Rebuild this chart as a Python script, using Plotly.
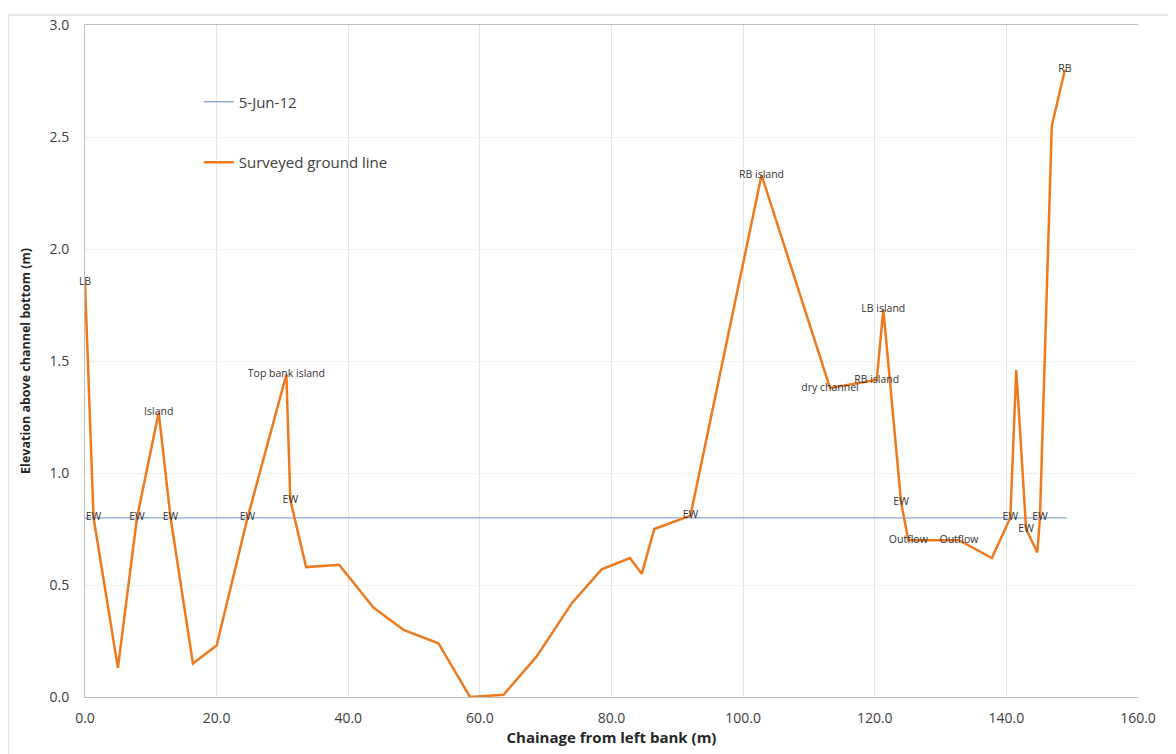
import plotly.graph_objects as go

# Surveyed ground line (chainage m, elevation m)
chainage = [0.0, 1.3, 5.0, 7.9, 11.2, 13.0, 16.4, 20.0, 24.7, 30.6, 31.2, 33.6, 38.6,
            43.8, 48.4, 53.7, 58.5, 63.6, 68.6, 74.0, 78.5, 82.8, 84.6, 86.5, 92.0,
            102.8, 113.2, 120.3, 121.3, 124.0, 125.1, 132.8, 137.8, 140.6, 141.5,
            143.0, 144.7, 145.1, 146.9, 148.9]
elevation = [1.85, 0.80, 0.13, 0.80, 1.27, 0.80, 0.15, 0.23, 0.80, 1.44, 0.88, 0.58, 0.59,
             0.40, 0.30, 0.24, 0.00, 0.01, 0.18, 0.42, 0.57, 0.62, 0.55, 0.75, 0.81,
             2.33, 1.38, 1.415, 1.73, 0.87, 0.70, 0.70, 0.62, 0.80, 1.46,
             0.75, 0.645, 0.80, 2.55, 2.80]
point_labels = ["LB", "EW", "", "EW", "Island", "EW", "", "", "EW", "Top bank island", "EW", "", "",
                "", "", "", "", "", "", "", "", "", "", "", "EW",
                "RB island", "dry channel", "RB island", "LB island", "EW", "Outflow", "Outflow", "", "EW", "",
                "EW", "", "EW", "", "RB"]

# Water level 5-Jun-12
water_x = [0.0, 149.2]
water_y = [0.80, 0.80]

x_ticks = [0, 20, 40, 60, 80, 100, 120, 140, 160]
y_ticks = [0.0, 0.5, 1.0, 1.5, 2.0, 2.5, 3.0]

FONT = "'Open Sans', Lato, sans-serif"
TXT = "#404040"

fig = go.Figure()
fig.add_trace(go.Scatter(
    x=water_x, y=water_y, mode="lines", name="5-Jun-12",
    line=dict(color="#8ea9d4", width=1.3), legendgroup="a"))
fig.add_trace(go.Scatter(
    x=chainage, y=elevation, mode="lines+text", name="Surveyed ground line",
    text=point_labels, textposition="middle center", cliponaxis=False,
    textfont=dict(size=10.5, color="#333333", family=FONT),
    line=dict(color="#ee7a1f", width=2.5), legendgroup="b"))

fig.update_layout(
    width=1176, height=754,
    margin=dict(l=77, r=46, t=17, b=65),
    paper_bgcolor="white", plot_bgcolor="white",
    font=dict(family=FONT, color=TXT, size=14),
    showlegend=True,
    legend=dict(x=0.108, y=0.91, xanchor="left", yanchor="top",
                bgcolor="rgba(0,0,0,0)", tracegroupgap=38,
                font=dict(size=15, color=TXT, family=FONT), itemwidth=30),
    xaxis=dict(range=[0, 160], tickvals=x_ticks,
               ticktext=[f"{v:.1f}" for v in x_ticks],
               showgrid=True, gridcolor="#e6e6e6", gridwidth=1,
               zeroline=False, showline=True, linecolor="#bfbfbf", linewidth=1,
               mirror=True, ticks="", tickfont=dict(size=14, color=TXT),
               ticklabelstandoff=8, automargin=False,
               title=dict(text="<b>Chainage from left bank (m)</b>",
                          font=dict(size=15, color="#262626"), standoff=1)),
    yaxis=dict(range=[0, 3.0], tickvals=y_ticks,
               ticktext=[f"{v:.1f}" for v in y_ticks],
               showgrid=True, gridcolor="#efefef", gridwidth=1,
               zeroline=False, showline=True, linecolor="#bfbfbf", linewidth=1,
               ticks="", tickfont=dict(size=14, color=TXT), ticklabelstandoff=12,
               automargin=False,
               title=dict(text="<b>Elevation above channel bottom (m)</b>",
                          font=dict(size=12.5, color="#262626"), standoff=16)),
)

# outer chart border
fig.add_shape(type="rect", xref="paper", yref="paper",
              x0=-0.0731, x1=1.2, y0=-0.2, y1=1.0149,
              line=dict(color="#d0d0d0", width=1), fillcolor="rgba(0,0,0,0)",
              layer="below")

fig.write_html("out.html")
